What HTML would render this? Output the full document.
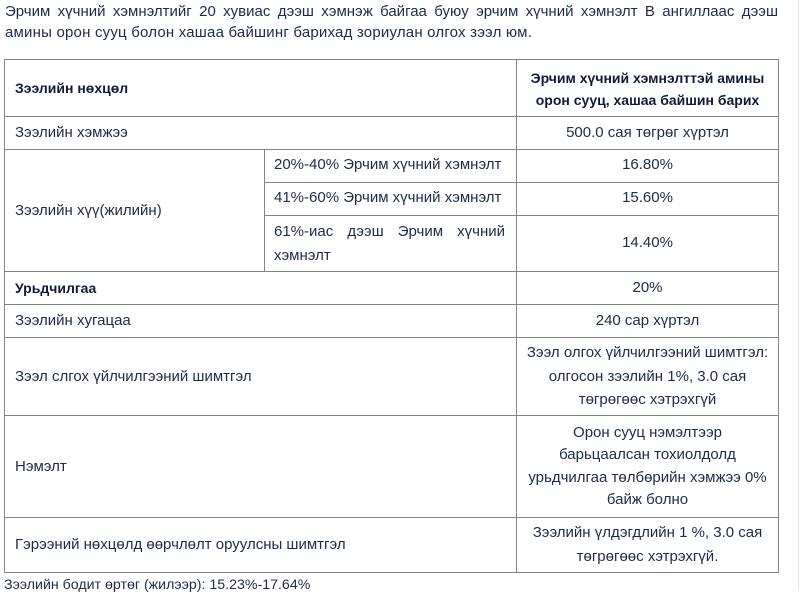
<!DOCTYPE html>
<html>
<head>
<meta charset="utf-8">
<style>
  html, body { margin:0; padding:0; }
  body { width:810px; height:590px; position:relative; overflow:hidden; background:#fff;
         font-family:"Liberation Sans", "DejaVu Sans", sans-serif; font-size:15px; color:#1c2b4a; }
  .t { position:absolute; line-height:22px; height:22px; white-space:nowrap; }
  .c { text-align:center; }
  .b { font-weight:bold; color:#0e1a3a; font-size:14px; }
  .j { text-align:justify; text-align-last:justify; white-space:normal; }
  .h { position:absolute; height:1px; background:#858585; }
  .v { position:absolute; width:1px; background:#858585; }
</style>
</head>
<body>
<div style="position:absolute;left:798px;top:0;width:1px;height:590px;background:#e4e4e4;"></div>

<div class="t j" style="left:5px;top:1px;width:773px;">Эрчим хүчний хэмнэлтийг 20 хувиас дээш хэмнэж байгаа буюу эрчим хүчний хэмнэлт В ангиллаас дээш</div>
<div class="t" style="left:5px;top:22px;letter-spacing:0.2px;">амины орон сууц болон хашаа байшинг барихад зориулан олгох зээл юм.</div>

<!-- horizontal lines -->
<div class="h" style="left:4px;width:775px;top:59px;"></div>
<div class="h" style="left:4px;width:775px;top:116px;"></div>
<div class="h" style="left:4px;width:775px;top:149px;"></div>
<div class="h" style="left:264px;width:515px;top:182px;"></div>
<div class="h" style="left:264px;width:515px;top:215px;"></div>
<div class="h" style="left:4px;width:775px;top:271px;"></div>
<div class="h" style="left:4px;width:775px;top:304px;"></div>
<div class="h" style="left:4px;width:775px;top:337px;"></div>
<div class="h" style="left:4px;width:775px;top:415px;"></div>
<div class="h" style="left:4px;width:775px;top:517px;"></div>
<div class="h" style="left:4px;width:775px;top:572px;"></div>
<!-- vertical lines -->
<div class="v" style="left:4px;top:59px;height:514px;"></div>
<div class="v" style="left:778px;top:59px;height:514px;"></div>
<div class="v" style="left:516px;top:59px;height:514px;"></div>
<div class="v" style="left:264px;top:149px;height:122px;"></div>

<!-- header -->
<div class="t b" style="left:15px;top:77px;">Зээлийн нөхцөл</div>
<div class="t c b" style="left:517px;width:261px;top:67px;">Эрчим хүчний хэмнэлттэй амины</div>
<div class="t c b" style="left:517px;width:261px;top:89px;">орон сууц, хашаа байшин барих</div>

<div class="t" style="left:15px;top:122px;">Зээлийн хэмжээ</div>
<div class="t c" style="left:517px;width:261px;top:122px;">500.0 сая төгрөг хүртэл</div>

<div class="t" style="left:15px;top:200px;">Зээлийн хүү(жилийн)</div>
<div class="t" style="left:274px;top:154px;">20%-40% Эрчим хүчний хэмнэлт</div>
<div class="t" style="left:274px;top:187px;">41%-60% Эрчим хүчний хэмнэлт</div>
<div class="t j" style="left:274px;width:231px;top:221px;">61%-иас дээш Эрчим хүчний</div>
<div class="t" style="left:274px;top:245px;">хэмнэлт</div>
<div class="t c" style="left:517px;width:261px;top:154px;">16.80%</div>
<div class="t c" style="left:517px;width:261px;top:187px;">15.60%</div>
<div class="t c" style="left:517px;width:261px;top:232px;">14.40%</div>

<div class="t b" style="left:15px;top:277px;">Урьдчилгаа</div>
<div class="t c" style="left:517px;width:261px;top:277px;">20%</div>

<div class="t" style="left:15px;top:310px;">Зээлийн хугацаа</div>
<div class="t c" style="left:517px;width:261px;top:310px;">240 сар хүртэл</div>

<div class="t" style="left:15px;top:366px;">Зээл слгох үйлчилгээний шимтгэл</div>
<div class="t c" style="left:517px;width:261px;top:342px;">Зээл олгох үйлчилгээний шимтгэл:</div>
<div class="t c" style="left:517px;width:261px;top:366px;">олгосон зээлийн 1%, 3.0 сая</div>
<div class="t c" style="left:517px;width:261px;top:389px;">төгрөгөөс хэтрэхгүй</div>

<div class="t" style="left:15px;top:456px;">Нэмэлт</div>
<div class="t c" style="left:517px;width:261px;top:422px;">Орон сууц нэмэлтээр</div>
<div class="t c" style="left:517px;width:261px;top:444px;">барьцаалсан тохиолдолд</div>
<div class="t c" style="left:517px;width:261px;top:467px;">урьдчилгаа төлбөрийн хэмжээ 0%</div>
<div class="t c" style="left:517px;width:261px;top:489px;">байж болно</div>

<div class="t" style="left:15px;top:534px;">Гэрээний нөхцөлд өөрчлөлт оруулсны шимтгэл</div>
<div class="t c" style="left:517px;width:261px;top:522px;">Зээлийн үлдэгдлийн 1 %, 3.0 сая</div>
<div class="t c" style="left:517px;width:261px;top:546px;">төгрөгөөс хэтрэхгүй.</div>

<div class="t" style="left:4px;top:574px;font-size:14.2px;">Зээлийн бодит өртөг (жилээр): 15.23%-17.64%</div>
</body>
</html>
